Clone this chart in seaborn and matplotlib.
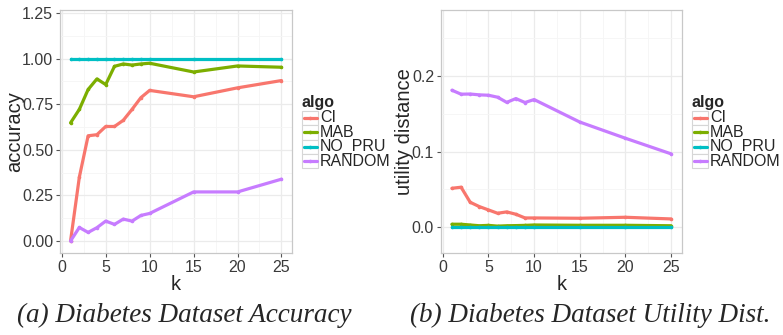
import numpy as np
import pandas as pd
import matplotlib
matplotlib.use("Agg")
import matplotlib.pyplot as plt
from matplotlib.ticker import MultipleLocator, FixedLocator
from matplotlib.patches import Rectangle
import seaborn as sns

k = [1, 2, 3, 4, 5, 6, 7, 8, 9, 10, 15, 20, 25]
algos = ["CI", "MAB", "NO_PRU", "RANDOM"]
colors = ["#F8766D", "#7CAE00", "#00BFC4", "#C77CFF"]

acc_ci = [0.0, 0.35, 0.577, 0.583, 0.628, 0.628, 0.662, 0.722, 0.786, 0.826, 0.791, 0.840, 0.880]
acc_mab = [0.648, 0.722, 0.831, 0.889, 0.858, 0.958, 0.971, 0.965, 0.971, 0.975, 0.927, 0.960, 0.953]
acc_nopru = [1.0] * 13
acc_random = [0.0, 0.074, 0.047, 0.073, 0.109, 0.091, 0.120, 0.109, 0.140, 0.151, 0.269, 0.269, 0.339]

ud_ci = [0.0515, 0.0529, 0.033, 0.0273, 0.0229, 0.0185, 0.0203, 0.0172, 0.0123, 0.0123, 0.0119, 0.0132, 0.011]
ud_mab = [0.004, 0.004, 0.003, 0.002, 0.0025, 0.0015, 0.002, 0.0022, 0.0025, 0.003, 0.0026, 0.0026, 0.002]
ud_nopru = [0.0] * 13
ud_random = [0.181, 0.1758, 0.176, 0.1749, 0.1744, 0.1718, 0.165, 0.170, 0.1648, 0.1687, 0.139, 0.1176, 0.097]

acc_ticks = [0.00, 0.25, 0.50, 0.75, 1.00, 1.25]
acc_ticklabels = ["0.00", "0.25", "0.50", "0.75", "1.00", "1.25"]
ud_ticks = [0.0, 0.1, 0.2]
ud_ticklabels = ["0.0", "0.1", "0.2"]
k_ticks = [0, 5, 10, 15, 20, 25]

captions = ["(a) Diabetes Dataset Accuracy", "(b) Diabetes Dataset Utility Dist."]


def make_df(series):
    rows = []
    for a, vals in zip(algos, series):
        for kk, v in zip(k, vals):
            rows.append({"k": kk, "value": v, "algo": a})
    return pd.DataFrame(rows)


df_acc = make_df([acc_ci, acc_mab, acc_nopru, acc_random])
df_ud = make_df([ud_ci, ud_mab, ud_nopru, ud_random])

sns.set_theme(style="white")
plt.rcParams["font.family"] = ["Liberation Sans", "DejaVu Sans"]

W, H = 783, 335
fig = plt.figure(figsize=(W / 100, H / 100), dpi=100)


def px_axes(l, r, t, b):
    return fig.add_axes([l / W, (H - b) / H, (r - l) / W, (b - t) / H])


ax1 = px_axes(60, 292, 10, 253)
ax2 = px_axes(441, 682, 10, 253)

palette = dict(zip(algos, colors))

for ax, df, ylim, yt, ytl, ylab, ymin, lx in [
    (ax1, df_acc, (-0.066, 1.267), acc_ticks, acc_ticklabels, "accuracy", 0.125, 15),
    (ax2, df_ud, (-0.034, 0.287), ud_ticks, ud_ticklabels, "utility distance", 0.05, 405),
]:
    sns.lineplot(data=df, x="k", y="value", hue="algo", palette=palette,
                 hue_order=algos, ax=ax, linewidth=2.3, marker="o",
                 markersize=2.6, markeredgewidth=0, legend=False, zorder=3)
    ax.set_xlim(-0.2, 26.2)
    ax.set_ylim(*ylim)
    ax.set_xticks(k_ticks)
    ax.set_xticklabels([str(t) for t in k_ticks])
    ax.set_yticks(yt)
    ax.set_yticklabels(ytl)
    ax.xaxis.set_minor_locator(FixedLocator([2.5, 7.5, 12.5, 17.5, 22.5]))
    ax.yaxis.set_minor_locator(MultipleLocator(ymin))
    ax.grid(True, which="major", color="#EBEBEB", linewidth=0.9, zorder=0)
    ax.grid(True, which="minor", color="#F5F5F5", linewidth=0.6, zorder=0)
    ax.set_axisbelow(True)
    for s in ax.spines.values():
        s.set_color("#C8C8C8")
        s.set_linewidth(0.9)
    ax.tick_params(axis="both", which="major", length=3, width=0.8, color="#555555",
                   labelsize=11.5, labelcolor="#3A3A3A", pad=2, direction="out")
    ax.tick_params(axis="both", which="minor", length=0)
    ax.tick_params(left=True, bottom=True)
    ax.set_xlabel("k", fontsize=14.5, labelpad=0)
    ax.set_ylabel("")
    fig.text(lx / W, (H - 131.5) / H, ylab, fontsize=14.5, rotation=90,
             ha="center", va="center")

# legends
for lx in [302, 692]:
    fig.text(lx / W, (H - 102) / H, "algo", fontsize=11.5, fontweight="bold",
             va="center", ha="left")
    for i, (a, c) in enumerate(zip(algos, colors)):
        yc = 118 + i * 14.4
        fig.patches.append(Rectangle((lx / W, (H - yc - 7.2) / H), 16 / W, 14.4 / H,
                                     transform=fig.transFigure, facecolor="white",
                                     edgecolor="#D6D6D6", linewidth=0.8))
        fig.lines.append(plt.Line2D([(lx + 1.5) / W, (lx + 14.5) / W], [(H - yc) / H] * 2,
                                    transform=fig.transFigure, color=c, linewidth=2.3))
        fig.lines.append(plt.Line2D([(lx + 8) / W], [(H - yc) / H], marker="o",
                                    markersize=2.6, markeredgewidth=0,
                                    transform=fig.transFigure, color=c))
        fig.text((lx + 18) / W, (H - yc) / H, a, fontsize=11.5, va="center", ha="left")

fig.text(184 / W, (H - 315) / H, captions[0], fontsize=19.5, style="italic",
         family="Liberation Serif", ha="center", va="center")
fig.text(590 / W, (H - 315) / H, captions[1], fontsize=19.5, style="italic",
         family="Liberation Serif", ha="center", va="center")

fig.savefig("out.png", dpi=100)
